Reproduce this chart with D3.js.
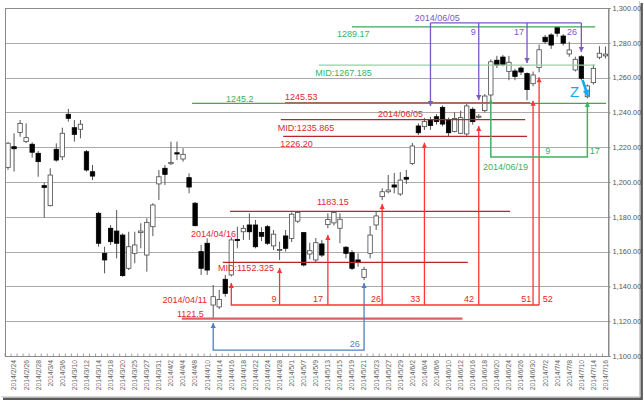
<!DOCTYPE html>
<html><head><meta charset="utf-8">
<script src="https://cdn.jsdelivr.net/npm/d3@7"></script>
<style>
body{margin:0;background:#fff;}
svg{display:block;font-family:"Liberation Sans",Arial,sans-serif;}
</style>
</head><body>
<svg id="c" width="644" height="402"></svg>
<script>
// ---------- data ----------
const dates = ["2014/2/21","2014/2/24","2014/2/25","2014/2/26","2014/2/27","2014/2/28",
"2014/3/3","2014/3/4","2014/3/5","2014/3/6","2014/3/7","2014/3/10","2014/3/11","2014/3/12","2014/3/13","2014/3/14","2014/3/17","2014/3/18","2014/3/19","2014/3/20","2014/3/24","2014/3/25","2014/3/26","2014/3/27","2014/3/28","2014/3/31",
"2014/4/1","2014/4/2","2014/4/3","2014/4/4","2014/4/7","2014/4/8","2014/4/9","2014/4/10","2014/4/11","2014/4/14","2014/4/15","2014/4/16","2014/4/17","2014/4/18","2014/4/21","2014/4/22","2014/4/23","2014/4/24","2014/4/25","2014/4/28","2014/4/30",
"2014/5/1","2014/5/2","2014/5/7","2014/5/8","2014/5/9","2014/5/12","2014/5/13","2014/5/14","2014/5/15","2014/5/16","2014/5/19","2014/5/20","2014/5/21","2014/5/22","2014/5/23","2014/5/26","2014/5/27","2014/5/28","2014/5/29","2014/5/30",
"2014/6/2","2014/6/3","2014/6/4","2014/6/5","2014/6/6","2014/6/9","2014/6/10","2014/6/11","2014/6/12","2014/6/13","2014/6/16","2014/6/17","2014/6/18","2014/6/19","2014/6/20","2014/6/23","2014/6/24","2014/6/25","2014/6/26","2014/6/27","2014/6/30",
"2014/7/1","2014/7/2","2014/7/3","2014/7/4","2014/7/7","2014/7/8","2014/7/9","2014/7/10","2014/7/11","2014/7/14","2014/7/15","2014/7/16"];

const open = [1208.4,1220.3,1228.5,1223.2,1221.7,1216.5,1197.9,1186.4,1218.8,1214.5,
1238.9,1231.2,1230.3,1217.4,1205.9,1182.0,1159.0,1173.4,1171.8,1169.5,
1150.4,1159.0,1170.9,1158.0,1174.3,1198.9,1207.9,1210.5,1216.8,1213.2,
1202.5,1187.8,1160.0,1164.8,1129.3,1128.2,1144.1,1146.6,1167.0,1171.4,
1175.3,1175.3,1171.0,1174.3,1163.3,1161.0,1169.0,1167.6,1177.5,1170.9,
1158.6,1155.2,1164.4,1175.5,1176.5,1173.4,1162.5,1159.4,1155.2,1145.2,
1159.0,1175.3,1191.6,1194.4,1198.3,1193.1,1202.7,1210.7,1232.2,1231.8,
1235.8,1237.5,1242.9,1236.0,1229.0,1228.0,1227.6,1241.8,1237.2,1241.0,
1250.0,1270.0,1271.8,1263.5,1263.8,1265.5,1262.3,1256.5,1265.8,1283.2,
1284.5,1288.9,1283.9,1273.6,1264.4,1272.0,1249.0,1257.1,1271.7,1272.5];

const high = [1223.0,1228.0,1235.6,1233.7,1222.8,1217.8,1199.6,1207.9,1222.2,1231.2,
1242.0,1235.6,1235.6,1218.4,1209.8,1182.9,1162.8,1175.3,1183.9,1170.5,
1171.4,1171.4,1176.3,1179.1,1187.8,1206.9,1209.8,1223.2,1223.2,1219.4,
1205.0,1188.5,1163.8,1167.6,1140.8,1138.0,1146.6,1168.2,1174.3,1175.3,
1182.0,1178.2,1174.0,1175.3,1172.4,1165.7,1172.4,1182.5,1183.15,1171.3,
1165.1,1167.8,1166.7,1182.0,1183.15,1182.0,1163.2,1160.9,1159.0,1151.3,
1174.7,1183.0,1196.4,1204.0,1205.2,1205.7,1206.9,1222.4,1233.7,1236.8,
1237.5,1239.0,1244.0,1237.0,1240.0,1241.0,1245.53,1243.0,1239.0,1250.5,
1270.5,1272.5,1273.0,1272.5,1265.0,1266.5,1263.0,1263.5,1279.0,1284.5,
1285.5,1289.17,1285.0,1280.6,1272.0,1273.0,1256.0,1267.5,1278.0,1277.8];

const low = [1207.0,1206.0,1226.0,1222.4,1214.0,1203.0,1179.5,1186.0,1211.7,1212.6,
1234.7,1223.2,1225.1,1205.9,1201.1,1162.8,1147.5,1163.8,1156.1,1145.5,
1149.4,1153.3,1161.9,1148.5,1168.9,1189.7,1198.3,1209.8,1212.6,1211.7,
1193.5,1174.5,1146.6,1146.6,1121.5,1127.0,1134.1,1145.7,1161.9,1166.7,
1166.7,1161.9,1166.0,1163.8,1160.9,1155.2,1160.0,1165.5,1176.5,1151.5,
1155.6,1154.0,1156.9,1173.4,1175.0,1164.8,1156.1,1149.4,1151.3,1143.7,
1156.1,1172.4,1189.7,1193.5,1193.5,1192.0,1198.9,1209.8,1227.0,1229.9,
1230.0,1233.0,1232.0,1226.2,1228.5,1227.5,1226.5,1233.0,1236.5,1240.0,
1247.5,1265.5,1266.5,1258.5,1258.5,1261.5,1247.0,1255.0,1263.0,1279.5,
1276.5,1283.5,1278.5,1272.0,1263.5,1258.5,1248.0,1256.0,1270.5,1271.0];

const close = [1222.3,1219.1,1233.7,1225.5,1217.1,1211.7,1196.9,1204.0,1212.6,1228.0,
1236.6,1227.4,1233.2,1206.9,1203.4,1164.8,1155.2,1165.7,1164.8,1146.2,
1162.8,1163.8,1171.8,1176.8,1186.8,1203.0,1204.4,1211.3,1216.1,1215.9,
1197.1,1174.9,1150.4,1149.4,1134.1,1132.5,1136.0,1166.7,1166.3,1173.4,
1171.4,1162.8,1168.8,1164.8,1170.0,1161.2,1161.9,1181.5,1182.5,1152.3,
1160.5,1165.1,1158.0,1178.5,1182.5,1178.6,1159.0,1150.4,1153.7,1149.8,
1169.5,1180.5,1194.4,1195.4,1197.1,1201.1,1201.6,1220.7,1228.3,1234.7,
1232.5,1234.7,1233.3,1228.3,1236.5,1237.0,1243.7,1234.7,1237.8,1249.4,
1269.1,1267.2,1267.5,1268.8,1260.7,1263.2,1253.1,1261.5,1276.0,1280.6,
1278.7,1285.5,1279.8,1275.9,1270.5,1259.6,1255.2,1265.3,1274.0,1273.5];

const yTicks = [1100,1120,1140,1160,1180,1200,1220,1240,1260,1280,1300];

// annotations in data units: [value, fromIndex, toIndex, group]
const refLines = [
  [1121.5, 28.8, 75.3, "lowLine"],
  [1153.8, 35.6, 76.2, "rangeRed"],
  [1183.15, 36.8, 83.2, "rangeRed"],
  [1245.53, 45.9, 86.5, "rangeRed"],
  [1235.865, 45.2, 85.7, "rangeRed"],
  [1226.20, 45.6, 86.0, "rangeRed"],
  [1289.17, 57.0, 97.3, "green"],
  [1267.185, 51.5, 97.3, "lightGreen"],
  [1245.2, 30.5, 99.1, "green"]
];
const blueBracket = [[34,1119],[34,1103.4],[59,1103.4],[59,1142]];
const redBase = [[37,1142],[37,1129.3],[88,1129.3]];
const redCountTips = [[45,1150.6],[53,1169.5],[62,1187.4],[69,1222.6],[78,1232.2],[87,1246.7],[88,1260.2]];
const redCountBase = 1129.3;
const purpleBase = [[70,1291.4],[95,1291.4]];
const purpleCountTips = [[70,1243.7],[78,1247.1],[86,1268.4],[95,1274.7]];
const purpleTop = 1291.4;
const greenBracket = [[80,1247.7],[80,1214.4],[96,1214.4],[96,1246.0]];
const zArrow = [[95.2,1258.6],[96.1,1249.4]];

// text notes: [text, index, value, anchor, group]
const notes = [
  ["2014/04/11", 32.97, 1130.5, "end", "red"],
  ["1121.5", 28.0, 1122.7, "start", "red"],
  ["26", 58.3, 1105.2, "end", "blue"],
  ["2014/04/16", 37.8, 1168.4, "end", "red"],
  ["MID:1152.325", 34.8, 1148.9, "start", "red"],
  ["1183.15", 51.2, 1186.8, "start", "red"],
  ["9", 44.5, 1131, "end", "red"],
  ["17", 52.2, 1131, "end", "red"],
  ["26", 61.8, 1131, "end", "red"],
  ["33", 68.3, 1131, "end", "red"],
  ["42", 77.2, 1131, "end", "red"],
  ["51", 86.7, 1131, "end", "red"],
  ["52", 88.6, 1131, "start", "red"],
  ["1245.53", 45.9, 1247.1, "start", "red"],
  ["2014/06/05", 61.3, 1237.4, "start", "red"],
  ["MID:1235.865", 44.7, 1229.3, "start", "red"],
  ["1226.20", 45.1, 1220.1, "start", "red"],
  ["2014/06/05", 67.4, 1292.5, "start", "purple"],
  ["9", 77.5, 1284.5, "end", "purple"],
  ["17", 85.5, 1284.5, "end", "purple"],
  ["26", 94.3, 1284.5, "end", "purple"],
  ["1289.17", 54.5, 1283.3, "start", "green"],
  ["MID:1267.185", 50.9, 1260.9, "start", "green"],
  ["1245.2", 36.1, 1246.0, "start", "green"],
  ["9", 89.0, 1216.1, "start", "green"],
  ["17", 96.4, 1216.1, "start", "green"],
  ["2014/06/19", 78.7, 1206.9, "start", "green"],
  ["Z", 93.1, 1248.9, "start", "cyan"]
];

// ---------- styles ----------
const lineStyle = {
  lowLine:{stroke:"#df5f5f", w:2.2},
  rangeRed:{stroke:"#b3272d", w:1.3},
  green:{stroke:"#3aa95a", w:1.3},
  lightGreen:{stroke:"#8fd3a5", w:1.3}
};
const textColor = {red:"#e0292b", blue:"#4f7fbf", purple:"#7d55c7", green:"#3bb060", cyan:"#14a9ea"};
const C = {redCount:"#ff3333", blue:"#4f7fbf", purple:"#7d55c7", green:"#3cb464", cyan:"#14a9ea"};

// ---------- scales ----------
const L = 5.5, R = 608.5, T = 8, B = 356;
const svg = d3.select("#c");
const n = dates.length;
const x = d3.scaleBand().domain(d3.range(n)).range([5, 608.5]);
const bw = x.bandwidth();
const xi = d3.scaleLinear().domain([0, n-1]).range([x(0)+bw/2, x(n-1)+bw/2]);
const y = d3.scaleLinear().domain([1100,1300]).range([B, T]);

// ---------- frame shadow ----------
svg.append("path").attr("d", `M3,398.7H641.7V3`).attr("fill","none")
  .attr("stroke","#5a5a5a").attr("stroke-width",2.4);
svg.append("path").attr("d", `M1,396.8H639.6V1`).attr("fill","none")
  .attr("stroke","#c8c8c8").attr("stroke-width",1);

// ---------- grid ----------
svg.append("g").selectAll("line").data(yTicks.filter(d=>d>1100 && d<1300)).join("line")
  .attr("x1", L).attr("x2", R)
  .attr("y1", d=>Math.round(y(d))+0.5).attr("y2", d=>Math.round(y(d))+0.5)
  .attr("stroke","#ababab").attr("stroke-width",1);

svg.append("rect").attr("x",L).attr("y",T+0.5).attr("width",R-L).attr("height",B-T)
  .attr("fill","none").attr("stroke","#8a8a8a").attr("stroke-width",1);

// ---------- axes ----------
const yAxis = svg.append("g").attr("transform",`translate(${R},0)`)
  .call(d3.axisRight(y).tickValues(yTicks).tickFormat(d3.format(",.2f")).tickSize(2).tickPadding(2));
yAxis.select(".domain").attr("stroke","#8a8a8a");
yAxis.selectAll(".tick line").attr("stroke","#8a8a8a");
yAxis.selectAll("text").attr("fill","#555").style("font-size","7.4px");

// category ticks at band boundaries
svg.append("g").selectAll("line").data(d3.range(n+1)).join("line")
  .attr("x1", i=> (i<n? x(i): x(n-1)+bw)).attr("x2", i=> (i<n? x(i): x(n-1)+bw))
  .attr("y1", B-2.5).attr("y2", B)
  .attr("stroke","#8a8a8a").attr("stroke-width",0.8);

const xAxis = svg.append("g").attr("transform",`translate(0,${B})`)
  .call(d3.axisBottom(x).tickValues(d3.range(1,n,2)).tickFormat(i=>dates[i]).tickSize(0));
xAxis.select(".domain").remove();
xAxis.selectAll("text")
  .attr("transform","rotate(-90)")
  .attr("x",-4).attr("y",0).attr("dy","0.35em")
  .style("text-anchor","end").style("font-size","6.8px").attr("fill","#666");

// ---------- candles ----------
svg.append("defs").append("clipPath").attr("id","pc").append("rect")
  .attr("x",L+0.5).attr("y",T).attr("width",R-L-1).attr("height",B-T);
const cg = svg.append("g").attr("clip-path","url(#pc)");
const idx = d3.range(n);
const bodyW = 4.4;
cg.selectAll("line.wick").data(idx).join("line").attr("class","wick")
  .attr("x1", i=>xi(i)).attr("x2", i=>xi(i))
  .attr("y1", i=>y(high[i])).attr("y2", i=>y(low[i]))
  .attr("stroke","#555").attr("stroke-width",1);
cg.selectAll("rect.body").data(idx).join("rect").attr("class","body")
  .attr("x", i=>xi(i)-bodyW/2).attr("width", bodyW)
  .attr("y", i=>y(Math.max(open[i],close[i])))
  .attr("height", i=>Math.max(1, Math.abs(y(open[i])-y(close[i]))))
  .attr("fill", i=> close[i]>=open[i] ? "#ffffff" : "#000000")
  .attr("stroke", i=> close[i]>=open[i] ? "#4a4a4a" : "#000000")
  .attr("stroke-width",0.8);

// ---------- annotations ----------
const ag = svg.append("g");
const lineGen = d3.line().x(p=>xi(p[0])).y(p=>y(p[1]));

function head(tip, from, color, size=5, half=2.6){
  const tx=xi(tip[0]), ty=y(tip[1]), fx=xi(from[0]), fy=y(from[1]);
  const a=Math.atan2(ty-fy, tx-fx);
  const bx=tx-size*Math.cos(a), by=ty-size*Math.sin(a);
  const px=-Math.sin(a)*half, py=Math.cos(a)*half;
  ag.append("path").attr("d",`M${tx},${ty}L${bx+px},${by+py}L${bx-px},${by-py}Z`).attr("fill",color);
}
function poly(pts, color, w){
  ag.append("path").attr("d", lineGen(pts)).attr("fill","none")
    .attr("stroke",color).attr("stroke-width",w);
}

refLines.forEach(([v,a,b,g])=>{
  ag.append("line").attr("x1",xi(a)).attr("x2",xi(b)).attr("y1",y(v)).attr("y2",y(v))
    .attr("stroke",lineStyle[g].stroke).attr("stroke-width",lineStyle[g].w);
});

// blue bracket
poly(blueBracket, C.blue, 1.3);
head(blueBracket[0], blueBracket[1], C.blue);
head(blueBracket[3], blueBracket[2], C.blue);

// red count bracket
poly(redBase, C.redCount, 1.3);
head(redBase[0], redBase[1], C.redCount);
redCountTips.forEach(t=>{
  const base=[t[0], redCountBase];
  poly([base,t], C.redCount, 1.3);
  head(t, base, C.redCount);
});

// purple count bracket
poly(purpleBase, C.purple, 1.3);
purpleCountTips.forEach(t=>{
  const base=[t[0], purpleTop];
  poly([base,t], C.purple, 1.3);
  head(t, base, C.purple);
});

// green bracket
poly(greenBracket, C.green, 1.5);
head(greenBracket[0], greenBracket[1], C.green);
head(greenBracket[3], greenBracket[2], C.green);

// Z arrow
poly(zArrow, C.cyan, 2.6);
head(zArrow[1], zArrow[0], C.cyan, 6, 3.4);

// texts
ag.selectAll("text.note").data(notes).join("text").attr("class","note")
  .attr("x", d=>xi(d[1])).attr("y", d=>y(d[2]))
  .attr("text-anchor", d=>d[3])
  .attr("fill", d=>textColor[d[4]])
  .style("font-size", d=> d[4]==="cyan" ? "15px" : "9px")
  .text(d=>d[0]);
</script>
</body></html>
